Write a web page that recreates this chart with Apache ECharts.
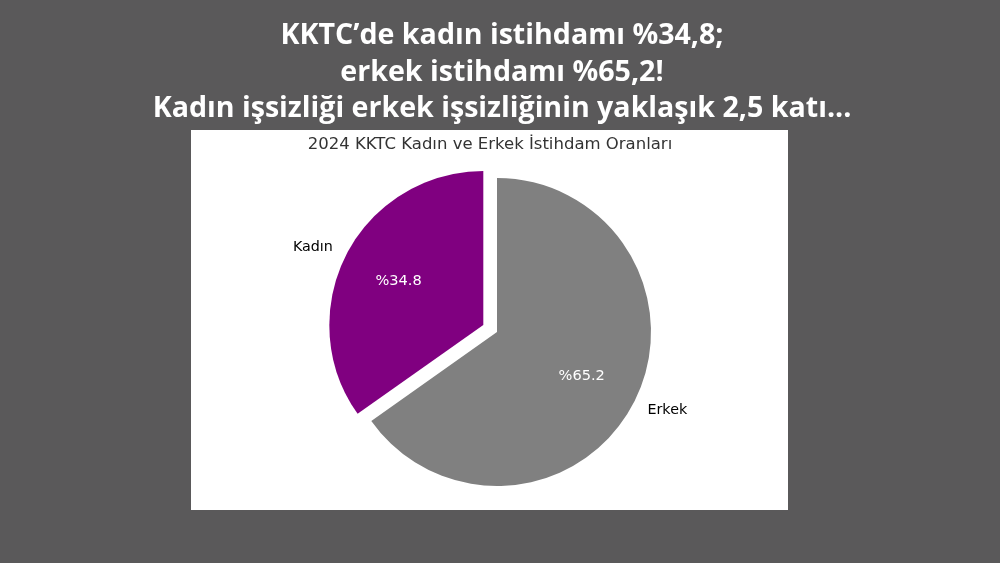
<!DOCTYPE html>
<html>
<head>
<meta charset="utf-8">
<script src="https://cdn.jsdelivr.net/npm/echarts@6/dist/echarts.min.js"></script>
<style>
  html, body { margin: 0; padding: 0; background: #5a595a; }
  #container { width: 1000px; height: 563px; }
</style>
</head>
<body>
<div id="container"></div>
<script>
// chart data
var categories = ['Kadın', 'Erkek'];
var shares = [34.8, 65.2];
var headline = [
    'KKTC\u2019de kadın istihdamı %34,8;',
    'erkek istihdamı %65,2!',
    'Kadın işsizliği erkek işsizliğinin yaklaşık 2,5 katı...'
];
var chartTitle = '2024 KKTC Kadın ve Erkek İstihdam Oranları';

var dom = document.getElementById('container');
var myChart = echarts.init(dom);

var R = 154;          // pie radius in px
var explode = R * 0.1; // offset of the first slice
var sliceColors = ['#800080', '#808080'];

var pieData = categories.map(function (name, i) {
    return {
        name: name,
        value: shares[i],
        selected: i === 0,
        itemStyle: { color: sliceColors[i] }
    };
});
var pctData = categories.map(function (name, i) {
    return { name: name, value: shares[i], selected: i === 0 };
});

var option = {
    backgroundColor: '#5a595a',
    animation: false,
    title: [
        {
            text: headline.join('\n'),
            left: 502,
            top: 18,
            textAlign: 'center',
            padding: 0,
            textStyle: {
                color: '#ffffff',
                fontFamily: 'Open Sans',
                fontWeight: 700,
                fontSize: 28.6,
                lineHeight: 36.5
            }
        },
        {
            text: chartTitle,
            left: 490,
            top: 136,
            textAlign: 'center',
            padding: 0,
            textStyle: {
                color: '#333333',
                fontFamily: 'DejaVu Sans',
                fontWeight: 'normal',
                fontSize: 16.5
            }
        }
    ],
    graphic: [
        {
            type: 'rect',
            z: -10,
            shape: { x: 191, y: 130, width: 597, height: 380 },
            style: { fill: '#ffffff' },
            silent: true
        }
    ],
    series: [
        {
            type: 'pie',
            center: [497, 332],
            radius: R,
            startAngle: 90,
            clockwise: false,
            selectedMode: 'single',
            selectedOffset: explode,
            avoidLabelOverlap: false,
            silent: true,
            emphasis: { disabled: true },
            itemStyle: { borderWidth: 0 },
            label: {
                show: true,
                position: 'outside',
                formatter: '{b}',
                color: '#000000',
                fontFamily: 'DejaVu Sans',
                fontSize: 14.3,
                distanceToLabelLine: 0
            },
            labelLine: { show: false, length: explode, length2: 0 },
            data: pieData
        },
        {
            type: 'pie',
            center: [497, 332],
            radius: [R * 0.6 - 10, R * 0.6 + 10],
            startAngle: 90,
            clockwise: false,
            selectedMode: 'single',
            selectedOffset: explode,
            avoidLabelOverlap: false,
            silent: true,
            emphasis: { disabled: true },
            itemStyle: { color: 'rgba(0,0,0,0)', borderWidth: 0 },
            label: {
                show: true,
                position: 'inside',
                formatter: '%{c}',
                color: '#ffffff',
                fontFamily: 'DejaVu Sans',
                fontSize: 14.6
            },
            labelLine: { show: false },
            data: pctData
        }
    ]
};

if (option && typeof option === 'object') {
    myChart.setOption(option, true);
}
</script>
</body>
</html>
